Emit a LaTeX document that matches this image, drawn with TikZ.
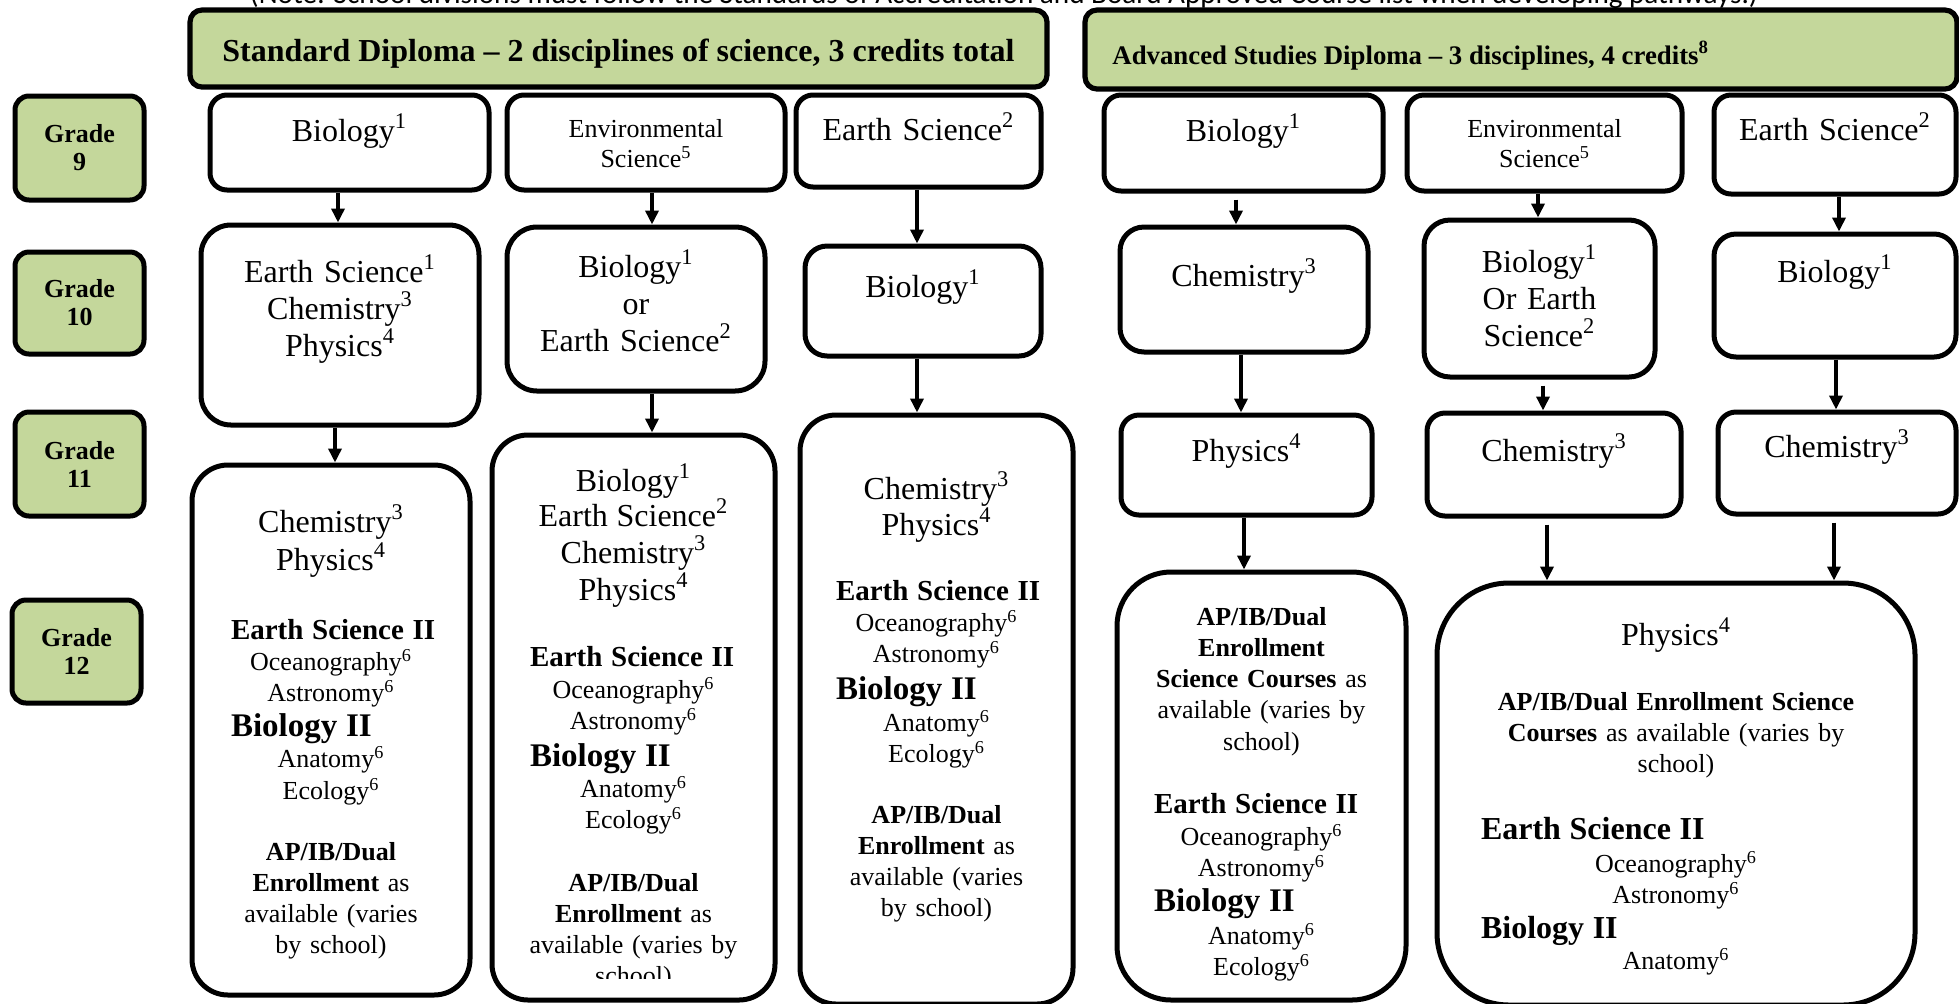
\documentclass[tikz,border=0pt]{standalone}
\usepackage{fontspec}
\setmainfont{Liberation Serif}
\newfontfamily\notefont{Carlito}
\usepackage{xcolor}
\usetikzlibrary{positioning,arrows.meta,fit}

\definecolor{gradegreen}{HTML}{C4D79B}
\newcommand{\setfs}[2]{\fontsize{#1}{#2}\selectfont\lineskiplimit=-50pt}
\newcommand{\lefthd}[2]{\makebox[#1][l]{#2}}
\newcommand{\sps}[1]{\textsuperscript{#1}}

\tikzset{
  course/.style={draw, line width=2.5pt, rounded corners=#1, inner sep=0pt},
  course/.default=8.5pt,
  grade/.style={draw, fill=gradegreen, line width=2.5pt, rounded corners=7pt, inner sep=0pt},
  gradetxt/.style={align=center, inner sep=0pt, font=\setfs{13}{14}\bfseries},
  diploma/.style={draw, fill=gradegreen, line width=2.6pt, rounded corners=6pt, inner sep=0pt},
  txt/.style={anchor=base, align=center, inner sep=0pt, text width=#1, font=\setfs{16}{18.5}},
  txt/.default=150pt,
  arr/.style={-{Triangle[length=7pt,width=6.5pt]}, line width=2.2pt}
}

\begin{document}
\begin{tikzpicture}[x=0.5pt,y=-0.5pt]
		
		\useasboundingbox (0,0) rectangle (1959,1003);
		
		\node[anchor=base, inner sep=0pt, font=\notefont\fontsize{14.6}{17}\selectfont] (note) at (1004,3.5)
		{(Note: School divisions must follow the Standards of Accreditation and Board Approved Course list when developing pathways.)};
		
		\node[diploma, fit={(190,10) (1047,87)}] (std) {};
		\node[anchor=base, inner sep=0pt, font=\setfs{16}{18}\bfseries] (stdt) at (618.5,61)
		{Standard Diploma -- 2 disciplines of science, 3 credits total};
		
		\node[diploma, fit={(1085,10) (1957,89)}] (adv) {};
		\node[anchor=base west, inner sep=0pt, font=\setfs{13.4}{15}\bfseries] (advt) at (1112,64)
		{Advanced Studies Diploma -- 3 disciplines, 4 credits\sps{8}};
		
		\node[grade, fit={(15,96) (144,200)}] (g9) {};
		\node[gradetxt] (g9t) at (g9) {Grade\\9};
		\node[grade, fit={(15,252) (144,354)}] (g10) {};
		\node[gradetxt] (g10t) at (g10) {Grade\\10};
		\node[grade, fit={(15,412) (144,516)}] (g11) {};
		\node[gradetxt] (g11t) at (g11) {Grade\\11};
		\node[grade, fit={(12,600) (141,703)}] (g12) {};
		\node[gradetxt] (g12t) at (g12) {Grade\\12};
		
		\node[course, fit={(210,95) (489,190)}] (a9) {};
		\node[txt] (a9t) at (349.5,141) {Biology\sps{1}};
		
		\node[course=15pt, fit={(201,225) (479,425)}] (a10) {};
		\node[txt] (a10t) at (340,282) {Earth Science\sps{1}\\Chemistry\sps{3}\\Physics\sps{4}};
		
		\node[course=18pt, fit={(192,465) (470,995)}] (a11) {};
		\node[txt=130pt, font=\setfs{13}{15.5}] (a11t) at (331,532)
		{{\setfs{16}{18}Chemistry\sps{3}}\\[3.5pt]
			{\setfs{16}{18}Physics\sps{4}}\\[19pt]
			\lefthd{100pt}{\setfs{14.5}{16}\bfseries Earth Science II}\\
			Oceanography\sps{6}\\
			Astronomy\sps{6}\\[2pt]
			\lefthd{100pt}{\setfs{16.5}{18}\bfseries Biology II}\\
			Anatomy\sps{6}\\[0.5pt]
			Ecology\sps{6}\\[15pt]
			\textbf{AP/IB/Dual}\\
			\textbf{Enrollment} as\\
			available (varies\\
			by school)};
		
		\node[course, fit={(507,95) (785,190)}] (b9) {};
		\node[txt=130pt, font=\setfs{13}{15}] (b9t) at (646,137) {Environmental\\Science\sps{5}};
		
		\node[course=15pt, fit={(507,227) (765,391)}] (b10) {};
		\node[txt] (b10t) at (636,277) {Biology\sps{1}\\or\\Earth Science\sps{2}};
		
		\node[course=18pt, fit={(492,435) (775,1000)}] (b11) {};
		\begin{scope}
			\clip (480,430) rectangle (790,978);
			\node[txt=135pt, font=\setfs{13}{15.5}] (b11t) at (633.5,491)
			{{\setfs{16}{18}Biology\sps{1}}\\[2pt]
				{\setfs{16}{18}Earth Science\sps{2}}\\[3pt]
				{\setfs{16}{18}Chemistry\sps{3}}\\[3pt]
				{\setfs{16}{18}Physics\sps{4}}\\[17.5pt]
				\lefthd{103.5pt}{\setfs{14.5}{16}\bfseries Earth Science II}\\[0.5pt]
				Oceanography\sps{6}\\
				Astronomy\sps{6}\\[3pt]
				\lefthd{103.5pt}{\setfs{16.5}{18}\bfseries Biology II}\\
				Anatomy\sps{6}\\
				Ecology\sps{6}\\[16pt]
				\textbf{AP/IB/Dual}\\
				\textbf{Enrollment} as\\
				available (varies by\\
				school)};
		\end{scope}
		
		\node[course, fit={(796,95) (1041,187)}] (c9) {};
		\node[txt] (c9t) at (918.5,140) {Earth Science\sps{2}};
		
		\node[course=11pt, fit={(805,246) (1041,356)}] (c10) {};
		\node[txt] (c10t) at (923,297) {Biology\sps{1}};
		
		\node[course=18pt, fit={(800,415) (1073,1004)}] (c11) {};
		\node[txt=130pt, font=\setfs{13}{15.5}] (c11t) at (936.5,499)
		{{\setfs{16}{18}Chemistry\sps{3}}\\[2.5pt]
			{\setfs{16}{18}Physics\sps{4}}\\[17pt]
			\lefthd{100.5pt}{\setfs{14.5}{16}\bfseries Earth Science II}\\
			Oceanography\sps{6}\\
			Astronomy\sps{6}\\[3pt]
			\lefthd{100.5pt}{\setfs{16.5}{18}\bfseries Biology II}\\[0.5pt]
			Anatomy\sps{6}\\
			Ecology\sps{6}\\[15pt]
			\textbf{AP/IB/Dual}\\
			\textbf{Enrollment} as\\
			available (varies\\
			by school)};
		
		\node[course, fit={(1104,95) (1383,191)}] (d9) {};
		\node[txt] (d9t) at (1243.5,141) {Biology\sps{1}};
		
		\node[course=12pt, fit={(1120,227) (1368,352)}] (d10) {};
		\node[txt] (d10t) at (1244,286) {Chemistry\sps{3}};
		
		\node[course=9pt, fit={(1121,415) (1372,515)}] (d11) {};
		\node[txt] (d11t) at (1246.5,461) {Physics\sps{4}};
		
		\node[course=27pt, fit={(1117,572) (1406,1000)}] (d12) {};
		\node[txt=135pt, font=\setfs{13}{15.5}] (d12t) at (1261.5,625)
		{\textbf{AP/IB/Dual}\\
			\textbf{Enrollment}\\
			\textbf{Science Courses} as\\
			available (varies by\\[0.5pt]
			school)\\[16pt]
			\lefthd{107.5pt}{\setfs{14.5}{16}\bfseries Earth Science II}\\[0.5pt]
			Oceanography\sps{6}\\
			Astronomy\sps{6}\\[2pt]
			\lefthd{107.5pt}{\setfs{16.5}{18}\bfseries Biology II}\\[1pt]
			Anatomy\sps{6}\\
			Ecology\sps{6}};
		
		\node[course, fit={(1407,95) (1682,191)}] (e9) {};
		\node[txt=130pt, font=\setfs{13}{15}] (e9t) at (1544.5,137) {Environmental\\Science\sps{5}};
		
		\node[course=13pt, fit={(1424,220) (1655,377)}] (e10) {};
		\node[txt] (e10t) at (1539.5,272) {Biology\sps{1}\\Or Earth\\Science\sps{2}};
		
		\node[course=9pt, fit={(1427,413) (1681,516)}] (e11) {};
		\node[txt] (e11t) at (1554,461) {Chemistry\sps{3}};
		
		\node[course=36pt, fit={(1437,583) (1915,1005)}] (e12) {};
		\node[txt=230pt, font=\setfs{13}{15.5}] (e12t) at (1676,645)
		{{\setfs{16}{18}Physics\sps{4}}\\[17pt]
			\textbf{AP/IB/Dual Enrollment Science}\\
			\textbf{Courses} as available (varies by\\
			school)\\[18pt]
			\lefthd{195pt}{\setfs{16}{18}\bfseries Earth Science II}\\[1pt]
			Oceanography\sps{6}\\
			Astronomy\sps{6}\\[2pt]
			\lefthd{195pt}{\setfs{16}{18}\bfseries Biology II}\\
			Anatomy\sps{6}};
		
		\node[course, fit={(1714,95) (1956,194)}] (f9) {};
		\node[txt] (f9t) at (1835,140) {Earth Science\sps{2}};
		
		\node[course=11pt, fit={(1714,234) (1956,357)}] (f10) {};
		\node[txt] (f10t) at (1835,282) {Biology\sps{1}};
		
		\node[course=9pt, fit={(1718,412) (1956,514)}] (f11) {};
		\node[txt] (f11t) at (1837,457) {Chemistry\sps{3}};
		
		\draw[arr] (338,0 |- a9.south) -- (338,0 |- a10.north);
		\draw[arr] (335,0 |- a10.south) -- (335,0 |- a11.north);
		\draw[arr] (652,0 |- b9.south) -- (652,0 |- b10.north);
		\draw[arr] (652,0 |- b10.south) -- (652,0 |- b11.north);
		\draw[arr] (917,0 |- c9.south) -- (917,0 |- c10.north);
		\draw[arr] (917,0 |- c10.south) -- (917,0 |- c11.north);
		\draw[arr, shorten <=3pt] (1236,0 |- d9.south) -- (1236,0 |- d10.north);
		\draw[arr] (1241,0 |- d10.south) -- (1241,0 |- d11.north);
		\draw[arr] (1244,0 |- d11.south) -- (1244,0 |- d12.north);
		\draw[arr] (1538,0 |- e9.south) -- (1538,0 |- e10.north);
		\draw[arr, shorten <=3pt] (1543,0 |- e10.south) -- (1543,0 |- e11.north);
		\draw[arr, shorten <=3pt] (1547,0 |- e11.south) -- (1547,0 |- e12.north);
		\draw[arr] (1839,0 |- f9.south) -- (1839,0 |- f10.north);
		\draw[arr] (1836,0 |- f10.south) -- (1836,0 |- f11.north);
		\draw[arr, shorten <=3pt] (1834,0 |- f11.south) -- (1834,0 |- e12.north);
		
	\end{tikzpicture}
\end{document}
